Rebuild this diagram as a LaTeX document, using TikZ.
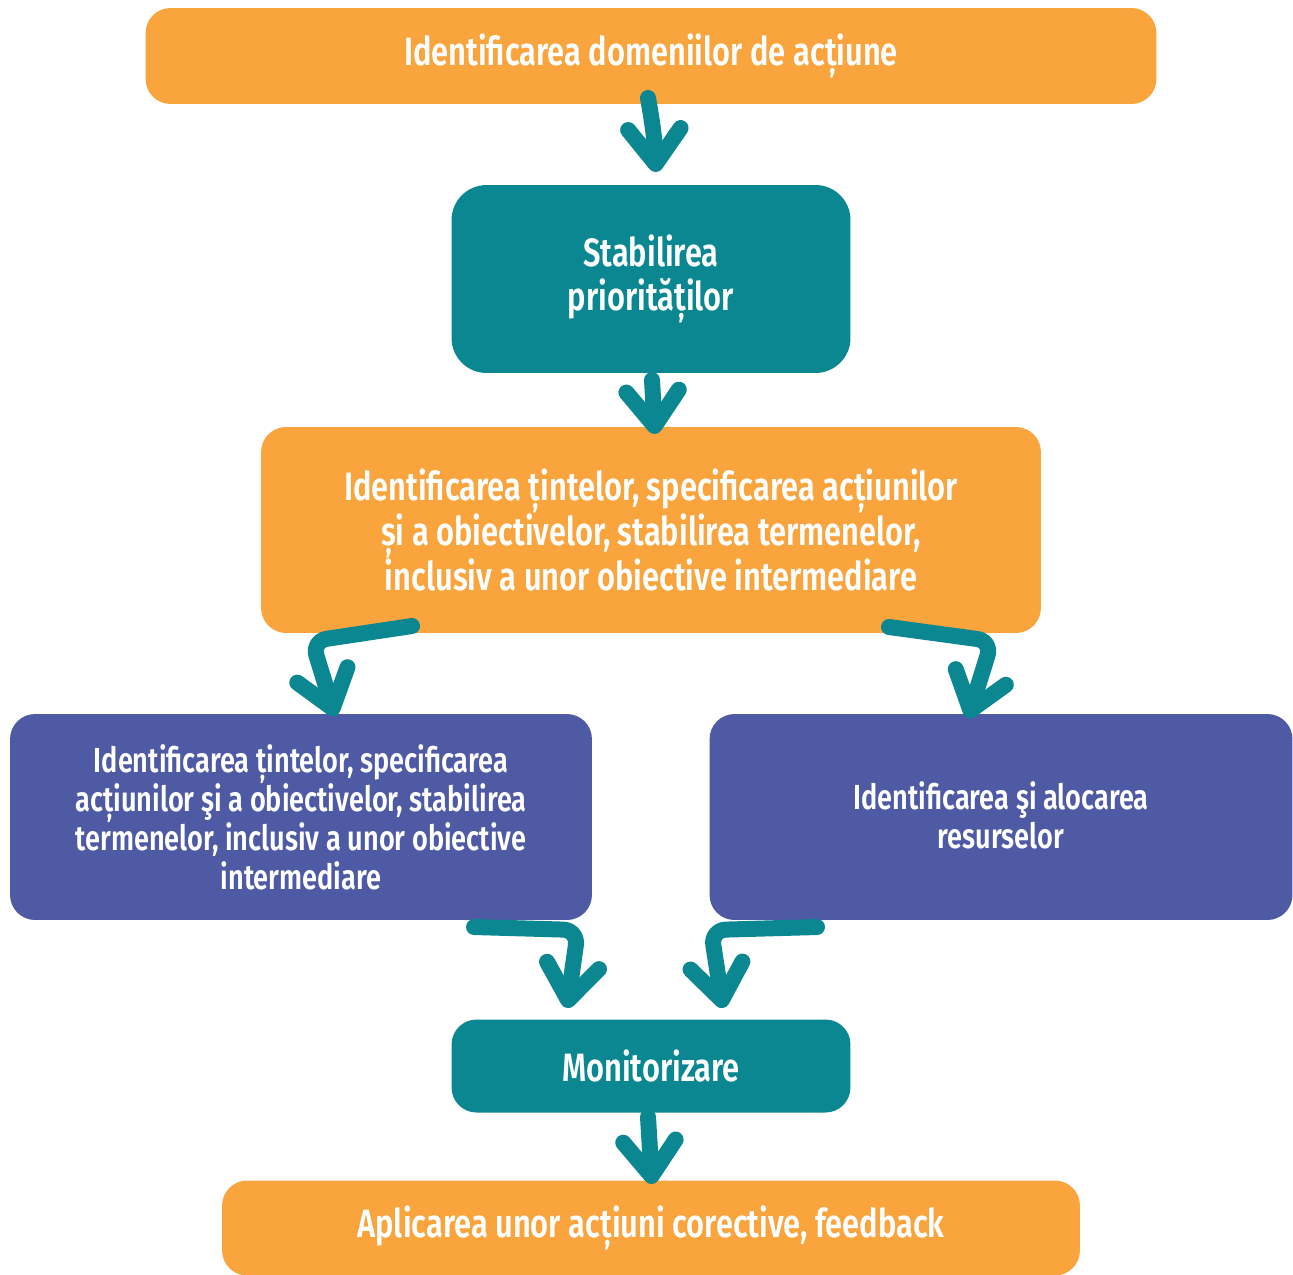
\documentclass[tikz,border=0pt]{standalone}
\usepackage{fontspec}
\setmainfont{Fira Sans}[FakeStretch=0.78, BoldFont={Fira Sans SemiBold}]
\usetikzlibrary{arrows.meta}

\definecolor{orangebox}{HTML}{F9A43D}
\definecolor{tealbox}{HTML}{0A8790}
\definecolor{purplebox}{HTML}{4F5AA5}

\begin{document}
\begin{tikzpicture}[x=0.02cm, y=-0.02cm,
	box/.style={rounded corners=0.5cm, text=white, align=center, inner sep=0pt,
		font=\bfseries\fontsize{22.5}{25.5}\selectfont},
	orangebox/.style={box, fill=orangebox},
	tealbox/.style={box, fill=tealbox, rounded corners=0.7cm},
	purplebox/.style={box, fill=purplebox, font=\bfseries\fontsize{19.8}{22.2}\selectfont},
	flow/.style={draw=tealbox, line width=0.32cm, line cap=round, line join=round,
		rounded corners=0.3cm,
		-{Straight Barb[length=0.7cm, width=1.05cm, round]}}
]
\useasboundingbox (0,0) rectangle (1293,1274);

% boxes
\node[orangebox, minimum width=20.22cm, minimum height=1.92cm] (domenii) at (651,56)
	{\raisebox{-3pt}{Identificarea domeniilor de acțiune}};
\node[tealbox, minimum width=7.98cm, minimum height=3.76cm] (prioritati) at (651,279)
	{\raisebox{-3pt}{Stabilirea}\\\raisebox{-3pt}{priorităților}};
\node[orangebox, minimum width=15.6cm, minimum height=4.12cm] (tinte) at (651,530)
	{Identificarea țintelor, specificarea acțiunilor\\și a obiectivelor, stabilirea termenelor,\\inclusiv a unor obiective intermediare};
\node[purplebox, minimum width=11.64cm, minimum height=4.12cm] (obiective) at (301,817)
	{Identificarea țintelor, specificarea\\acțiunilor ş{}i a obiectivelor, stabilirea\\termenelor, inclusiv a unor obiective\\intermediare};
\node[purplebox, minimum width=11.66cm, minimum height=4.12cm] (resurse) at (1001,817)
	{\raisebox{2pt}{Identificarea ş{}i alocarea}\\\raisebox{2pt}{resurselor}};
\node[tealbox, rounded corners=0.5cm, minimum width=7.98cm, minimum height=1.86cm] (monitor) at (651,1066)
	{Monitorizare};
\node[orangebox, minimum width=17.16cm, minimum height=1.9cm] (feedback) at (651,1228)
	{Aplicarea unor acțiuni corective, feedback};

% arrow ends
\coordinate (a1) at (648,98);   \coordinate (b1) at (656,172);
\coordinate (a2) at (652,380);  \coordinate (b2) at (655,434);
\coordinate (a3) at (412,626);  \coordinate (b3) at (335,716);
\coordinate (a4) at (889,627);  \coordinate (b4) at (968,718);
\coordinate (a5) at (474,927);  \coordinate (b5) at (567,1008);
\coordinate (a6) at (817,927);  \coordinate (b6) at (723,1008);
\coordinate (a7) at (648,1117); \coordinate (b7) at (652,1184);

\draw[flow] (a1) to[bend left=4] (b1);
\draw[flow] (a2) -- (b2);
\draw[flow] (a3) -- (312,641) -- (b3);
\draw[flow] (a4) -- (992,641) -- (b4);
\draw[flow] (a5) -- (578,930) -- (b5);
\draw[flow] (a6) -- (711,930) -- (b6);
\draw[flow] (a7) -- (b7);
\end{tikzpicture}
\end{document}
